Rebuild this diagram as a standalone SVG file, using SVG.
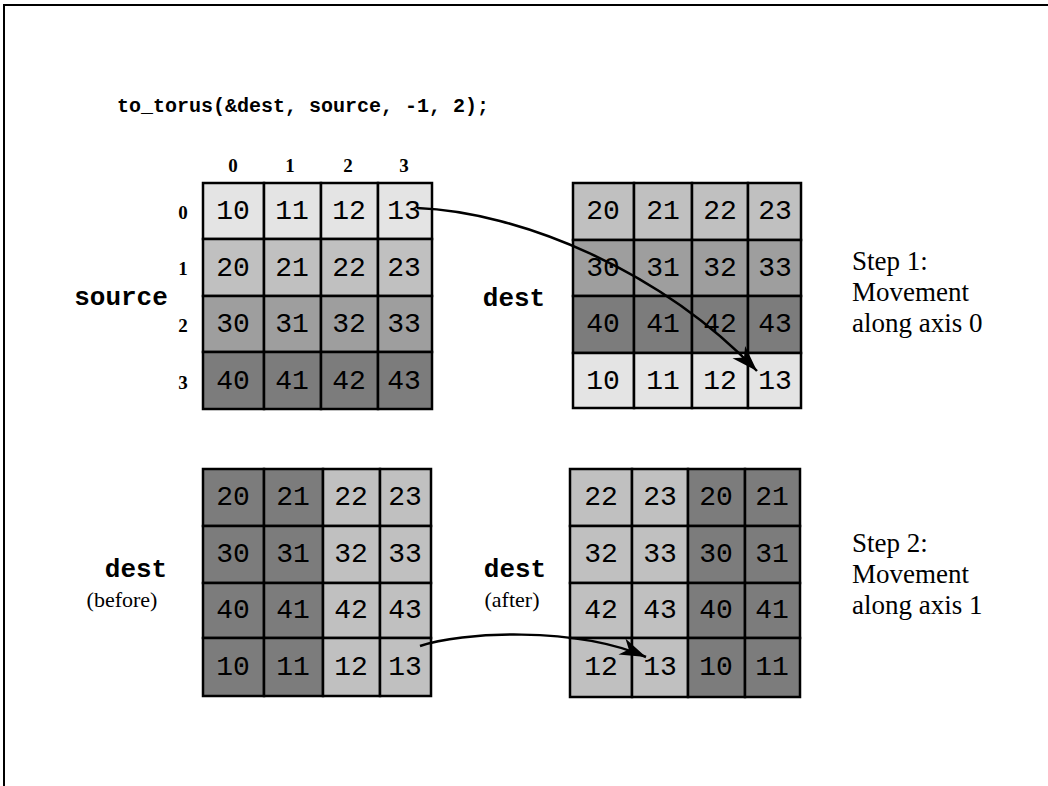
<svg xmlns="http://www.w3.org/2000/svg" width="1048" height="786" viewBox="0 0 1048 786">
<style>
.frame{fill:none;stroke:#000;stroke-width:2}
.grid{fill:none;stroke:#000;stroke-width:2.5}
.cell{stroke:#000;stroke-width:2.5}
.l0{fill:#e4e4e4}.l1{fill:#c0c0c0}.l2{fill:#9e9e9e}.l3{fill:#7c7c7c}
.num{font-family:"Liberation Mono","Courier New",monospace;font-size:28px;fill:#000;text-anchor:middle;dominant-baseline:central}
.code{font-family:"Liberation Mono","Courier New",monospace;font-weight:bold;fill:#000}
.lab{font-family:"Liberation Mono","Courier New",monospace;font-weight:bold;font-size:26px;fill:#000;text-anchor:middle}
.ax{font-family:"Liberation Serif","Times New Roman",serif;font-weight:bold;font-size:19px;fill:#000;text-anchor:middle;dominant-baseline:central}
.rm{font-family:"Liberation Serif","Times New Roman",serif;font-size:22px;fill:#000;text-anchor:middle}
.step{font-family:"Liberation Serif","Times New Roman",serif;font-size:27px;fill:#000}
.arrow{fill:none;stroke:#000;stroke-width:2.5}
</style>
<defs>
<marker id="ah" markerUnits="userSpaceOnUse" markerWidth="30" markerHeight="20" viewBox="-22 -8 24 16" refX="0" refY="0" orient="auto">
<path d="M0,0 L-21,-7 L-15,0 L-21,7 Z" fill="#000"/>
</marker>
</defs>
<rect width="1048" height="786" fill="#fff"/>
<path class="frame" d="M4,786 V5 H1048"/>
<text class="code" x="117" y="112" font-size="20">to_torus(&amp;dest, source, -1, 2);</text>

<g id="axis-labels">
<text class="ax" x="233" y="165">0</text>
<text class="ax" x="290" y="165">1</text>
<text class="ax" x="348" y="165">2</text>
<text class="ax" x="404" y="165">3</text>
<text class="ax" x="183" y="212">0</text>
<text class="ax" x="183" y="268">1</text>
<text class="ax" x="183" y="325">2</text>
<text class="ax" x="183" y="382">3</text>
</g>

<g id="source">
<text class="lab" x="121" y="305">source</text>
<rect class="cell l0" x="203" y="183" width="61" height="56"/><rect class="cell l0" x="264" y="183" width="57" height="56"/><rect class="cell l0" x="321" y="183" width="57" height="56"/><rect class="cell l0" x="378" y="183" width="54" height="56"/>
<rect class="cell l1" x="203" y="239" width="61" height="57"/><rect class="cell l1" x="264" y="239" width="57" height="57"/><rect class="cell l1" x="321" y="239" width="57" height="57"/><rect class="cell l1" x="378" y="239" width="54" height="57"/>
<rect class="cell l2" x="203" y="296" width="61" height="56"/><rect class="cell l2" x="264" y="296" width="57" height="56"/><rect class="cell l2" x="321" y="296" width="57" height="56"/><rect class="cell l2" x="378" y="296" width="54" height="56"/>
<rect class="cell l3" x="203" y="352" width="61" height="57"/><rect class="cell l3" x="264" y="352" width="57" height="57"/><rect class="cell l3" x="321" y="352" width="57" height="57"/><rect class="cell l3" x="378" y="352" width="54" height="57"/>
<text class="num" x="233" y="211">10</text><text class="num" x="292" y="211">11</text><text class="num" x="349" y="211">12</text><text class="num" x="404" y="211">13</text>
<text class="num" x="233" y="268">20</text><text class="num" x="292" y="268">21</text><text class="num" x="349" y="268">22</text><text class="num" x="404" y="268">23</text>
<text class="num" x="233" y="324">30</text><text class="num" x="292" y="324">31</text><text class="num" x="349" y="324">32</text><text class="num" x="404" y="324">33</text>
<text class="num" x="233" y="381">40</text><text class="num" x="292" y="381">41</text><text class="num" x="349" y="381">42</text><text class="num" x="404" y="381">43</text>
</g>

<g id="dest-step1">
<text class="lab" x="514" y="306">dest</text>
<rect class="cell l1" x="573" y="183" width="61" height="57"/><rect class="cell l1" x="634" y="183" width="58" height="57"/><rect class="cell l1" x="692" y="183" width="56" height="57"/><rect class="cell l1" x="748" y="183" width="53" height="57"/>
<rect class="cell l2" x="573" y="240" width="61" height="56"/><rect class="cell l2" x="634" y="240" width="58" height="56"/><rect class="cell l2" x="692" y="240" width="56" height="56"/><rect class="cell l2" x="748" y="240" width="53" height="56"/>
<rect class="cell l3" x="573" y="296" width="61" height="57"/><rect class="cell l3" x="634" y="296" width="58" height="57"/><rect class="cell l3" x="692" y="296" width="56" height="57"/><rect class="cell l3" x="748" y="296" width="53" height="57"/>
<rect class="cell l0" x="573" y="353" width="61" height="55"/><rect class="cell l0" x="634" y="353" width="58" height="55"/><rect class="cell l0" x="692" y="353" width="56" height="55"/><rect class="cell l0" x="748" y="353" width="53" height="55"/>
<text class="num" x="603" y="211">20</text><text class="num" x="663" y="211">21</text><text class="num" x="720" y="211">22</text><text class="num" x="775" y="211">23</text>
<text class="num" x="603" y="268">30</text><text class="num" x="663" y="268">31</text><text class="num" x="720" y="268">32</text><text class="num" x="775" y="268">33</text>
<text class="num" x="603" y="324">40</text><text class="num" x="663" y="324">41</text><text class="num" x="720" y="324">42</text><text class="num" x="775" y="324">43</text>
<text class="num" x="603" y="381">10</text><text class="num" x="663" y="381">11</text><text class="num" x="720" y="381">12</text><text class="num" x="775" y="381">13</text>
</g>

<g id="dest-before">
<text class="lab" x="136" y="577">dest</text>
<text class="rm" x="122" y="607">(before)</text>
<rect class="cell l3" x="203" y="469" width="61" height="57"/><rect class="cell l3" x="264" y="469" width="59" height="57"/><rect class="cell l1" x="323" y="469" width="57" height="57"/><rect class="cell l1" x="380" y="469" width="51" height="57"/>
<rect class="cell l3" x="203" y="526" width="61" height="57"/><rect class="cell l3" x="264" y="526" width="59" height="57"/><rect class="cell l1" x="323" y="526" width="57" height="57"/><rect class="cell l1" x="380" y="526" width="51" height="57"/>
<rect class="cell l3" x="203" y="583" width="61" height="55"/><rect class="cell l3" x="264" y="583" width="59" height="55"/><rect class="cell l1" x="323" y="583" width="57" height="55"/><rect class="cell l1" x="380" y="583" width="51" height="55"/>
<rect class="cell l3" x="203" y="638" width="61" height="58"/><rect class="cell l3" x="264" y="638" width="59" height="58"/><rect class="cell l1" x="323" y="638" width="57" height="58"/><rect class="cell l1" x="380" y="638" width="51" height="58"/>
<text class="num" x="233" y="497">20</text><text class="num" x="293" y="497">21</text><text class="num" x="351" y="497">22</text><text class="num" x="405" y="497">23</text>
<text class="num" x="233" y="554">30</text><text class="num" x="293" y="554">31</text><text class="num" x="351" y="554">32</text><text class="num" x="405" y="554">33</text>
<text class="num" x="233" y="610">40</text><text class="num" x="293" y="610">41</text><text class="num" x="351" y="610">42</text><text class="num" x="405" y="610">43</text>
<text class="num" x="233" y="667">10</text><text class="num" x="293" y="667">11</text><text class="num" x="351" y="667">12</text><text class="num" x="405" y="667">13</text>
</g>

<g id="dest-after">
<text class="lab" x="515" y="577">dest</text>
<text class="rm" x="512" y="607">(after)</text>
<rect class="cell l1" x="570" y="469" width="62" height="57"/><rect class="cell l1" x="632" y="469" width="56" height="57"/><rect class="cell l3" x="688" y="469" width="57" height="57"/><rect class="cell l3" x="745" y="469" width="55" height="57"/>
<rect class="cell l1" x="570" y="526" width="62" height="57"/><rect class="cell l1" x="632" y="526" width="56" height="57"/><rect class="cell l3" x="688" y="526" width="57" height="57"/><rect class="cell l3" x="745" y="526" width="55" height="57"/>
<rect class="cell l1" x="570" y="583" width="62" height="55"/><rect class="cell l1" x="632" y="583" width="56" height="55"/><rect class="cell l3" x="688" y="583" width="57" height="55"/><rect class="cell l3" x="745" y="583" width="55" height="55"/>
<rect class="cell l1" x="570" y="638" width="62" height="59"/><rect class="cell l1" x="632" y="638" width="56" height="59"/><rect class="cell l3" x="688" y="638" width="57" height="59"/><rect class="cell l3" x="745" y="638" width="55" height="59"/>
<text class="num" x="601" y="497">22</text><text class="num" x="660" y="497">23</text><text class="num" x="716" y="497">20</text><text class="num" x="772" y="497">21</text>
<text class="num" x="601" y="554">32</text><text class="num" x="660" y="554">33</text><text class="num" x="716" y="554">30</text><text class="num" x="772" y="554">31</text>
<text class="num" x="601" y="610">42</text><text class="num" x="660" y="610">43</text><text class="num" x="716" y="610">40</text><text class="num" x="772" y="610">41</text>
<text class="num" x="601" y="667">12</text><text class="num" x="660" y="667">13</text><text class="num" x="716" y="667">10</text><text class="num" x="772" y="667">11</text>
</g>

<g id="step1">
<text class="step" x="852" y="270">Step 1:</text>
<text class="step" x="852" y="301">Movement</text>
<text class="step" x="852" y="332">along axis 0</text>
</g>
<g id="step2">
<text class="step" x="852" y="552">Step 2:</text>
<text class="step" x="852" y="583">Movement</text>
<text class="step" x="852" y="614">along axis 1</text>
</g>

<g id="connectors">
<path class="arrow" d="M417,208 C520,212 660,270 757,371" marker-end="url(#ah)"/>
<path class="arrow" d="M420,646 C460,632 575,626 646,657" marker-end="url(#ah)"/>
</g>
</svg>
